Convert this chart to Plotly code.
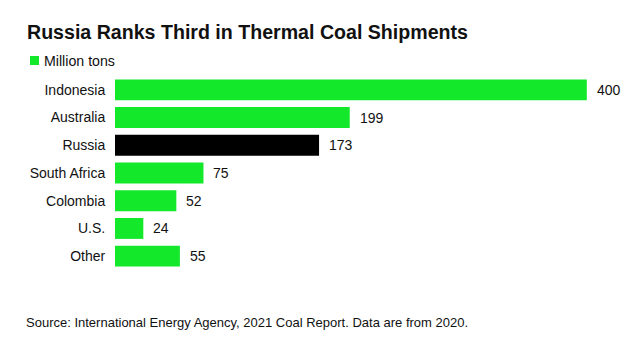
import plotly.graph_objects as go

# Thermal coal exports, 2020 (million tons)
countries = ["Indonesia", "Australia", "Russia", "South Africa", "Colombia", "U.S.", "Other"]
shipments = [400, 199, 173, 75, 52, 24, 55]
highlight = "Russia"
unit_label = "Million tons"
title_text = "Russia Ranks Third in Thermal Coal Shipments"
source_text = "Source: International Energy Agency, 2021 Coal Report. Data are from 2020."

GREEN = "#13e82a"
BLACK = "#000000"
TEXT = "#111111"
FONT = "Liberation Sans, Arial, sans-serif"

colors = [BLACK if c == highlight else GREEN for c in countries]

W, H = 640, 337
M_L, M_R, M_T, M_B = 115, 6, 76, 67
X_MAX = 440

fig = go.Figure(
    go.Bar(
        x=shipments,
        y=countries,
        orientation="h",
        marker=dict(color=colors, line=dict(width=0)),
        hoverinfo="x+y",
        showlegend=False,
    )
)

# value labels just past the end of each bar
for c, v in zip(countries, shipments):
    fig.add_annotation(
        x=v, y=c, xref="x", yref="y",
        text=str(v), showarrow=False,
        xanchor="left", yanchor="middle", xshift=8,
        font=dict(family=FONT, size=14, color=TEXT),
    )

plot_w = W - M_L - M_R
plot_h = H - M_T - M_B


def px_x(px):
    return (px - M_L) / plot_w


def px_y(py):
    return 1 - (py - M_T) / plot_h


# legend key: green swatch + unit label
fig.add_shape(
    type="rect", xref="paper", yref="paper",
    x0=px_x(30), x1=px_x(39), y0=px_y(65), y1=px_y(56),
    fillcolor=GREEN, line=dict(width=0), layer="above",
)
fig.add_annotation(
    x=px_x(42), y=px_y(61), xref="paper", yref="paper",
    text=unit_label,
    showarrow=False, xanchor="left", yanchor="middle",
    font=dict(family=FONT, size=14.2, color=TEXT),
)

# source note
fig.add_annotation(
    x=px_x(24), y=px_y(322), xref="paper", yref="paper",
    text=source_text,
    showarrow=False, xanchor="left", yanchor="middle",
    font=dict(family=FONT, size=13, color=TEXT),
)

fig.update_layout(
    width=W, height=H,
    margin=dict(l=M_L, r=M_R, t=M_T, b=M_B, pad=0),
    paper_bgcolor="white", plot_bgcolor="white",
    bargap=0.245,
    title=dict(
        text=f"<b>{title_text}</b>",
        xref="container", yref="container",
        x=27 / W, xanchor="left",
        y=1 - 32 / H, yanchor="middle",
        pad=dict(l=0, r=0, t=0, b=0),
        font=dict(family=FONT, size=19.6, color=TEXT),
    ),
    xaxis=dict(
        range=[0, X_MAX], visible=False, fixedrange=True,
    ),
    yaxis=dict(
        autorange="reversed",
        showgrid=False, zeroline=False, showline=False,
        ticks="outside", ticklen=6, tickcolor="rgba(0,0,0,0)",
        tickfont=dict(family=FONT, size=14, color=TEXT),
        fixedrange=True,
    ),
    font=dict(family=FONT, color=TEXT),
)

fig.write_html("out.html")
